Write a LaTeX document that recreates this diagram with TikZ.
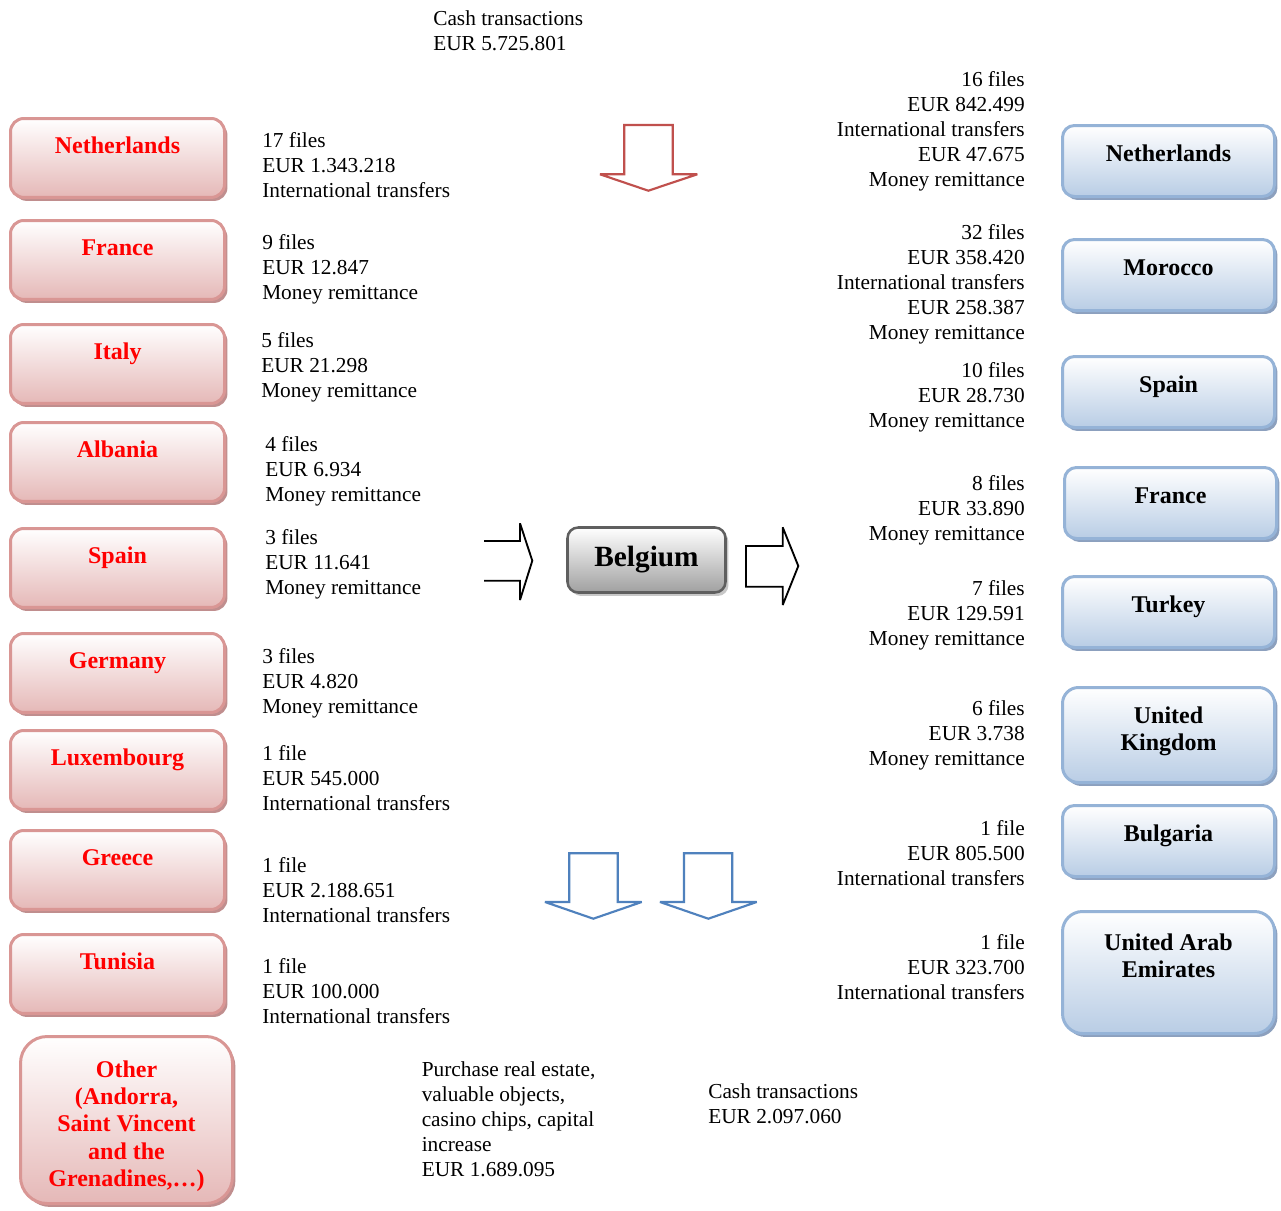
\documentclass[tikz,border=0pt]{standalone}
\usepackage{fontspec}
\setmainfont{Liberation Serif}
\usetikzlibrary{shadows}
\definecolor{redline}{RGB}{217,150,148}
\definecolor{redfill}{RGB}{229,184,183}
\definecolor{redshade}{RGB}{192,142,142}
\definecolor{blueline}{RGB}{149,179,215}
\definecolor{bluefill}{RGB}{185,205,229}
\definecolor{blueshade}{RGB}{140,160,190}
\definecolor{grayline}{RGB}{95,95,95}
\definecolor{grayfill}{RGB}{160,160,160}
\definecolor{grayshade}{RGB}{200,200,200}
\definecolor{arrowred}{RGB}{192,80,77}
\definecolor{arrowblue}{RGB}{79,129,189}
\newcommand{\blockL}[1]{\begin{tabular}[t]{@{}l@{}}#1\end{tabular}}
\newcommand{\blockR}[1]{\begin{tabular}[t]{@{}r@{}}#1\end{tabular}}
\newcommand{\blockC}[1]{\begin{tabular}[t]{@{}c@{}}#1\end{tabular}}
\tikzset{
  cbox/.style={rectangle, line width=2.25pt, inner sep=0pt, outer sep=0pt,
    anchor=north west, font=\fontsize{18}{20.6}\selectfont\bfseries},
  redbox/.style={cbox, draw=redline, top color=white, bottom color=redfill,
    text=red, rounded corners=10pt, minimum width=160.5pt,
    text height=26.6pt, text depth=32.6pt,
    drop shadow={shadow xshift=2.2pt, shadow yshift=-2.6pt, fill=redshade, opacity=1}},
  bluebox/.style={cbox, draw=blueline, top color=white, bottom color=bluefill,
    text=black, rounded corners=9pt, minimum width=159pt,
    text height=27pt, text depth=26.25pt,
    drop shadow={shadow xshift=2.2pt, shadow yshift=-2.6pt, fill=blueshade, opacity=1}},
  infoL/.style={anchor=base west, inner sep=0pt, font=\fontsize{16}{18.75}\selectfont},
  infoR/.style={anchor=base east, inner sep=0pt, font=\fontsize{16}{18.75}\selectfont},
  redarrow/.style={draw=arrowred, line width=1.6pt, line join=miter, miter limit=2},
  bluearrow/.style={draw=arrowblue, line width=1.6pt, line join=miter, miter limit=2},
  blackarrow/.style={draw=black, line width=1.4pt, line join=miter, miter limit=2}
}
\begin{document}
\begin{tikzpicture}[x=0.75pt, y=-0.75pt]
\fill[white] (0,0) rectangle (1281,1210);
\useasboundingbox (0,0) rectangle (1281,1210);

% left (red) boxes
\node[redbox] (rNL) at (10.5,118.5) {Netherlands};
\node[redbox] (rFR) at (10.5,220.5) {France};
\node[redbox] (rIT) at (10.5,324.5) {Italy};
\node[redbox] (rAL) at (10.5,422.5) {Albania};
\node[redbox] (rES) at (10.5,528.5) {Spain};
\node[redbox] (rDE) at (10.5,633.5) {Germany};
\node[redbox] (rLU) at (10.5,730.5) {Luxembourg};
\node[redbox] (rGR) at (10.5,830.5) {Greece};
\node[redbox] (rTN) at (10.5,934.5) {Tunisia};
\node[redbox, rounded corners=20pt, minimum width=159pt, text height=30.4pt, text depth=94.85pt] (rOT) at (20.5,1036.5)
  {\blockC{Other\\(Andorra,\\Saint Vincent\\and the\\Grenadines,\dots)}};

% right (blue) boxes
\node[bluebox] (bNL) at (1062.5,125.5) {Netherlands};
\node[bluebox] (bMA) at (1062.5,239.5) {Morocco};
\node[bluebox] (bES) at (1062.5,356.5) {Spain};
\node[bluebox] (bFR) at (1064.5,467.5) {France};
\node[bluebox] (bTR) at (1062.5,576.5) {Turkey};
\node[bluebox, rounded corners=12pt, text depth=44.25pt] (bUK) at (1062.5,687.5) {\blockC{United\\Kingdom}};
\node[bluebox] (bBG) at (1062.5,805.5) {Bulgaria};
\node[bluebox, rounded corners=15pt, text height=28.9pt, text depth=62.6pt] (bAE) at (1062.5,911.5) {\blockC{United Arab\\Emirates}};

% centre
\node[cbox, draw=grayline, line width=1.9pt, top color=white, bottom color=grayfill,
  rounded corners=8pt, minimum width=118.5pt, text height=29.3pt, text depth=19.45pt,
  font=\fontsize{22}{26}\selectfont\bfseries,
  drop shadow={shadow xshift=2.2pt, shadow yshift=-2.6pt, fill=grayshade, opacity=1}]
  (BE) at (567.5,527.5) {Belgium};

% left texts
\node[infoL] (tNL) at (262,147) {\blockL{17 files\\EUR 1.343.218\\International transfers}};
\node[infoL] (tFR) at (262,249) {\blockL{9 files\\EUR 12.847\\Money remittance}};
\node[infoL] (tIT) at (261,347) {\blockL{5 files\\EUR 21.298\\Money remittance}};
\node[infoL] (tAL) at (265,451) {\blockL{4 files\\EUR 6.934\\Money remittance}};
\node[infoL] (tES) at (265,544) {\blockL{3 files\\EUR 11.641\\Money remittance}};
\node[infoL] (tDE) at (262,663) {\blockL{3 files\\EUR 4.820\\Money remittance}};
\node[infoL] (tLU) at (262,760) {\blockL{1 file\\EUR 545.000\\International transfers}};
\node[infoL] (tGR) at (262,872) {\blockL{1 file\\EUR 2.188.651\\International transfers}};
\node[infoL] (tTN) at (262,973) {\blockL{1 file\\EUR 100.000\\International transfers}};

% right texts
\node[infoR] (uNL) at (1025,86) {\blockR{16 files\\EUR 842.499\\International transfers\\EUR 47.675\\Money remittance}};
\node[infoR] (uMA) at (1025,239) {\blockR{32 files\\EUR 358.420\\International transfers\\EUR 258.387\\Money remittance}};
\node[infoR] (uES) at (1025,377) {\blockR{10 files\\EUR 28.730\\Money remittance}};
\node[infoR] (uFR) at (1025,490) {\blockR{8 files\\EUR 33.890\\Money remittance}};
\node[infoR] (uTR) at (1025,595) {\blockR{7 files\\EUR 129.591\\Money remittance}};
\node[infoR] (uUK) at (1025,715) {\blockR{6 files\\EUR 3.738\\Money remittance}};
\node[infoR] (uBG) at (1025,835) {\blockR{1 file\\EUR 805.500\\International transfers}};
\node[infoR] (uAE) at (1025,949) {\blockR{1 file\\EUR 323.700\\International transfers}};

% top and bottom texts
\node[infoL] (cashin) at (433,25) {\blockL{Cash transactions\\EUR 5.725.801}};
\node[infoL] (purchase) at (421.5,1076) {\blockL{Purchase real estate,\\valuable objects,\\casino chips, capital\\increase\\EUR 1.689.095}};
\node[infoL] (cashout) at (708,1098) {\blockL{Cash transactions\\EUR 2.097.060}};

% block arrows
\draw[redarrow] (624.3,125)--(672.7,125)--(672.7,174.3)--(697.3,174.3)--(648.3,190.7)--(600,174.3)--(624.3,174.3)--cycle;
\draw[bluearrow] (569.3,853.3)--(617.7,853.3)--(617.7,902)--(641.7,902)--(593.3,918.7)--(545,902)--(569.3,902)--cycle;
\draw[bluearrow] (684,853.3)--(732.3,853.3)--(732.3,902)--(756.7,902)--(708.3,918.7)--(660,902)--(684,902)--cycle;
\draw[blackarrow] (484,541)--(520,541)--(520,523.3)--(532.3,560.7)--(520,600)--(520,580.7)--(484,580.7);
\draw[blackarrow] (746,546)--(782.7,546)--(782.7,527.3)--(798.3,566)--(782.7,605)--(782.7,586.7)--(746,586.7)--cycle;
\end{tikzpicture}
\end{document}
